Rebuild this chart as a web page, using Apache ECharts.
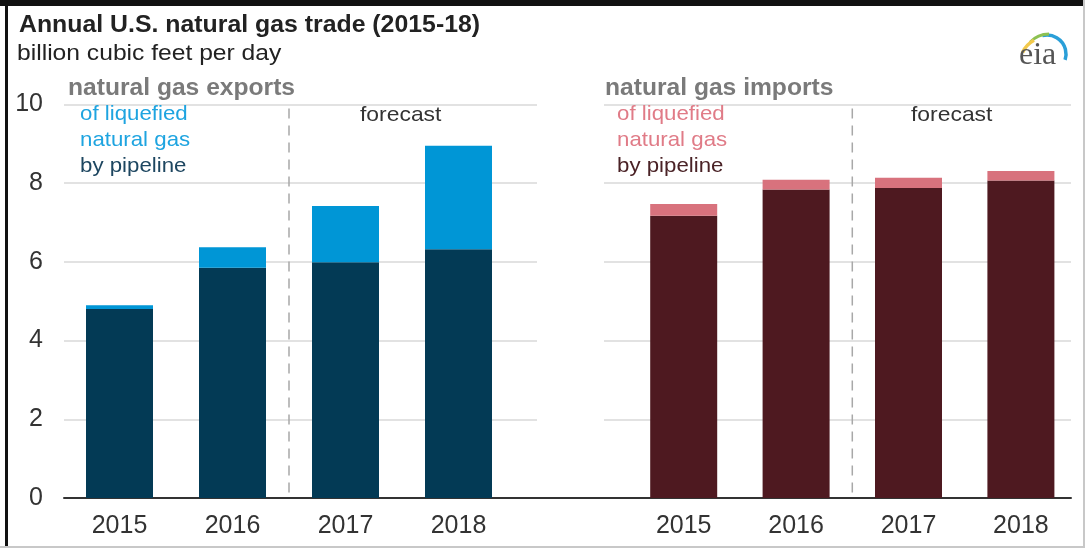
<!DOCTYPE html>
<html>
<head>
<meta charset="utf-8">
<script src="https://cdn.jsdelivr.net/npm/echarts@6/dist/echarts.min.js"></script>
<style>
html,body{margin:0;padding:0;background:#fff;}
#main{width:1085px;height:548px;}
</style>
</head>
<body>
<div id="main"></div>
<script>
// ---- data ----
var years = ['2015', '2016', '2017', '2018'];
var exportPipeline = [4.80, 5.85, 5.99, 6.32];
var exportLNG = [0.10, 0.52, 1.43, 2.63];
var importPipeline = [7.17, 7.84, 7.88, 8.07];
var importLNG = [0.30, 0.25, 0.26, 0.24];
var yTicks = [0, 2, 4, 6, 8, 10];

var FONT = '"Liberation Sans", Arial, sans-serif';
var chart = echarts.init(document.getElementById('main'), null, {renderer: 'canvas'});

var TOP = 104.5, H = 393.5;
function yAx(idx, showLabel, showSplit) {
  return {
    type: 'value', gridIndex: idx, min: yTicks[0], max: yTicks[yTicks.length - 1], interval: 2,
    axisLine: {show: false}, axisTick: {show: false},
    axisLabel: {show: showLabel, fontFamily: FONT, fontSize: 25, color: '#333', margin: 21},
    splitLine: {show: showSplit, lineStyle: {color: '#d9d9d9', width: 1.5}}
  };
}
function xHidden(idx) {
  return {type: 'category', gridIndex: idx, data: years, show: false};
}
function xBars(idx) {
  return {
    type: 'category', gridIndex: idx, data: years,
    axisLine: {show: false}, axisTick: {show: false},
    axisLabel: {fontFamily: FONT, fontSize: 25, color: '#333', margin: 16}
  };
}

var option = {
  animation: false,
  backgroundColor: '#fff',
  grid: [
    {left: 64, top: TOP, width: 473, height: H},
    {left: 604, top: TOP, width: 467, height: H},
    {left: 64, top: TOP, width: 1007, height: H},
    {left: 63, top: TOP, width: 452, height: H},
    {left: 627.5, top: TOP, width: 449.6, height: H}
  ],
  xAxis: [
    xHidden(0), xHidden(1),
    {type: 'category', gridIndex: 2, data: [''], axisLine: {show: true, lineStyle: {color: '#333', width: 2}},
     axisTick: {show: false}, axisLabel: {show: false}},
    xBars(3), xBars(4)
  ],
  yAxis: [yAx(0, true, true), yAx(1, false, true), yAx(2, false, false), yAx(3, false, false), yAx(4, false, false)],
  series: [
    {type: 'bar', name: 'exports by pipeline', xAxisIndex: 3, yAxisIndex: 3, stack: 'exp', barWidth: 67,
     data: exportPipeline, itemStyle: {color: '#033a55'}},
    {type: 'bar', name: 'exports LNG', xAxisIndex: 3, yAxisIndex: 3, stack: 'exp', barWidth: 67,
     data: exportLNG, itemStyle: {color: '#0096d6'}},
    {type: 'bar', name: 'imports by pipeline', xAxisIndex: 4, yAxisIndex: 4, stack: 'imp', barWidth: 67,
     data: importPipeline, itemStyle: {color: '#4e1920'}},
    {type: 'bar', name: 'imports LNG', xAxisIndex: 4, yAxisIndex: 4, stack: 'imp', barWidth: 67,
     data: importLNG, itemStyle: {color: '#d8727d'}}
  ]
};
chart.setOption(option);

function txt(x, y, text, size, color, weight, sx) {
  return {type: 'text', x: x, y: y, scaleX: sx || 1, silent: true,
    style: {text: text, fontFamily: FONT, fontSize: size, fontWeight: weight || 'normal', fill: color,
            textAlign: 'left', textVerticalAlign: 'middle'}};
}

// forecast dividers between 2016 and 2017, from the axes
function midX(axisIdx) {
  var a = chart.convertToPixel({xAxisIndex: axisIdx}, years[1]);
  var b = chart.convertToPixel({xAxisIndex: axisIdx}, years[2]);
  return (a + b) / 2;
}
var yTopPx = chart.convertToPixel({yAxisIndex: 3}, 9.9);
var yBotPx = chart.convertToPixel({yAxisIndex: 3}, 0);
var xL = midX(3), xR = midX(4);

var graphics = [
  // border
  {type: 'rect', shape: {x: 0, y: 0, width: 1085, height: 6}, style: {fill: '#111'}, silent: true},
  {type: 'rect', shape: {x: 5, y: 0, width: 3, height: 548}, style: {fill: '#111'}, silent: true},
  {type: 'rect', shape: {x: 0, y: 546, width: 1085, height: 2}, style: {fill: '#c8c8c8'}, silent: true},
  {type: 'rect', shape: {x: 1083, y: 0, width: 2, height: 548}, style: {fill: '#c8c8c8'}, silent: true},
  // dashed dividers
  {type: 'line', shape: {x1: xL, y1: yTopPx, x2: xL, y2: yBotPx}, style: {stroke: '#a8a8a8', lineWidth: 1.5, lineDash: [10, 7]}, silent: true},
  {type: 'line', shape: {x1: xR, y1: yTopPx, x2: xR, y2: yBotPx}, style: {stroke: '#a8a8a8', lineWidth: 1.5, lineDash: [10, 7]}, silent: true},
  // titles
  txt(19, 26, 'Annual U.S. natural gas trade (2015-18)', 23, '#222', 'bold', 1.08),
  txt(17, 54, 'billion cubic feet per day', 22, '#222', 'normal', 1.12),
  txt(68, 89, 'natural gas exports', 23, '#7a7a7a', 'bold', 1.07),
  txt(605, 89, 'natural gas imports', 23, '#7a7a7a', 'bold', 1.07),
  txt(80, 114, 'of liquefied', 21, '#1ea4e0', 'normal', 1.06),
  txt(80, 140, 'natural gas', 21, '#1ea4e0', 'normal', 1.06),
  txt(80, 166, 'by pipeline', 21, '#1d4660', 'normal', 1.06),
  txt(617, 114, 'of liquefied', 21, '#e07b87', 'normal', 1.06),
  txt(617, 140, 'natural gas', 21, '#e07b87', 'normal', 1.06),
  txt(617, 166, 'by pipeline', 21, '#4a2226', 'normal', 1.06),
  txt(360, 115, 'forecast', 21, '#333', 'normal', 1.09),
  txt(911, 115, 'forecast', 21, '#333', 'normal', 1.09),
  // eia logo
  {type: 'arc', shape: {cx: 1047, cy: 54, r: 19, startAngle: -Math.PI * 0.58, endAngle: Math.PI * 0.10},
   style: {stroke: '#2a9fd8', lineWidth: 3.5, fill: null}, silent: true},
  {type: 'arc', shape: {cx: 1049, cy: 60, r: 26, startAngle: -Math.PI * 0.76, endAngle: -Math.PI * 0.50},
   style: {stroke: '#8cc152', lineWidth: 3, fill: null}, silent: true},
  {type: 'arc', shape: {cx: 1047, cy: 64, r: 27, startAngle: -Math.PI * 0.86, endAngle: -Math.PI * 0.66},
   style: {stroke: '#f2c94c', lineWidth: 3.5, fill: null}, silent: true},
  {type: 'text', x: 1019, y: 56, silent: true,
   style: {text: 'eia', fontFamily: '"Liberation Serif", "DejaVu Serif", serif', fontSize: 32, fill: '#555',
           textAlign: 'left', textVerticalAlign: 'middle'}}
];
chart.setOption({graphic: graphics});
</script>
</body>
</html>
